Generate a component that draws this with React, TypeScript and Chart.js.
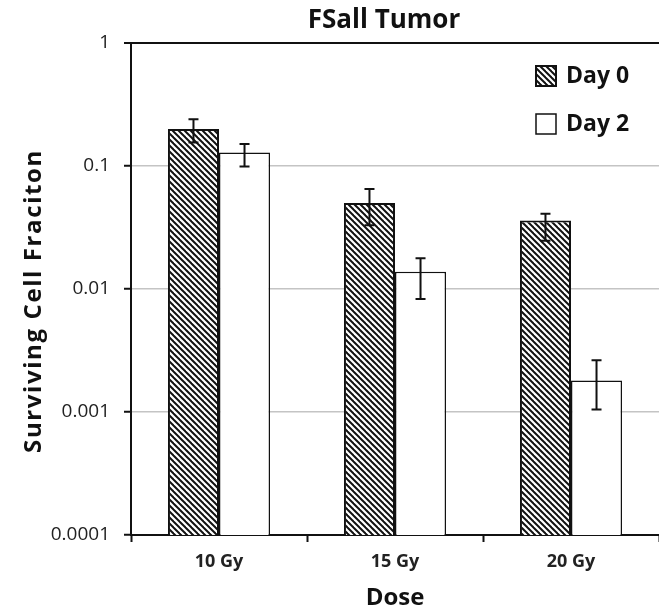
import React, { useEffect, useRef } from "react";
import { Chart, registerables } from "chart.js";

Chart.register(...registerables);

const categories = ["10 Gy", "15 Gy", "20 Gy"];
const seriesNames = ["Day 0", "Day 2"];
const day0 = [0.2, 0.05, 0.036];
const day0Hi = [0.24, 0.065, 0.041];
const day0Lo = [0.155, 0.033, 0.0247];
const day2 = [0.129, 0.0138, 0.0018];
const day2Hi = [0.151, 0.0178, 0.00263];
const day2Lo = [0.099, 0.0083, 0.00105];
const yTicks = [0.0001, 0.001, 0.01, 0.1, 1];
const yTickLabels = ["0.0001", "0.001", "0.01", "0.1", "1"];
const chartTitle = "FSall Tumor";
const xTitle = "Dose";
const yTitle = "Surviving Cell Fraciton";

const FONT = "'Open Sans'";

function makeHatch(): CanvasPattern | string {
  const s = 6;
  const c = document.createElement("canvas");
  c.width = s;
  c.height = s;
  const g = c.getContext("2d");
  if (!g) return "#fff";
  g.fillStyle = "#fff";
  g.fillRect(0, 0, s, s);
  g.strokeStyle = "#111";
  g.lineWidth = 2;
  for (let k = -1; k <= 1; k++) {
    g.beginPath();
    g.moveTo(-1, k * s - 1);
    g.lineTo(s + 1, k * s + s + 1);
    g.stroke();
  }
  const p = g.createPattern(c, "repeat");
  return p || "#fff";
}

export default function App() {
  const ref = useRef<HTMLCanvasElement | null>(null);
  useEffect(() => {
    if (!ref.current) return;
    const hatch = makeHatch();
    const errs = [
      { hi: day0Hi, lo: day0Lo },
      { hi: day2Hi, lo: day2Lo },
    ];
    const errorBars = {
      id: "errorBars",
      afterDatasetsDraw(chart: any) {
        const ctx = chart.ctx;
        const ys = chart.scales.y;
        ctx.save();
        ctx.strokeStyle = "#111";
        ctx.lineWidth = 2;
        chart.data.datasets.forEach((_: any, i: number) => {
          const meta = chart.getDatasetMeta(i);
          meta.data.forEach((el: any, j: number) => {
            const x = el.x;
            const yh = ys.getPixelForValue(errs[i].hi[j]);
            const yl = ys.getPixelForValue(errs[i].lo[j]);
            ctx.beginPath();
            ctx.moveTo(x, yh);
            ctx.lineTo(x, yl);
            ctx.moveTo(x - 5, yh);
            ctx.lineTo(x + 5, yh);
            ctx.moveTo(x - 5, yl);
            ctx.lineTo(x + 5, yl);
            ctx.stroke();
          });
        });
        ctx.restore();
      },
    };
    const extras = {
      id: "extras",
      afterDraw(chart: any) {
        const ctx = chart.ctx;
        ctx.save();
        ctx.fillStyle = "#111";
        // title
        ctx.font = `bold 26px ${FONT}`;
        ctx.textAlign = "center";
        ctx.textBaseline = "alphabetic";
        ctx.fillText(chartTitle, 384, 28);
        // y axis title
        ctx.save();
        ctx.translate(41, 301);
        ctx.rotate(-Math.PI / 2);
        ctx.font = `bold 24px ${FONT}`;
        (ctx as any).letterSpacing = "1.6px";
        ctx.textAlign = "center";
        ctx.textBaseline = "alphabetic";
        ctx.fillText(yTitle, 0, 0);
        ctx.restore();
        // legend
        const bx = 536;
        const rows = [66, 114];
        ctx.font = `bold 23px ${FONT}`;
        ctx.textAlign = "left";
        ctx.textBaseline = "middle";
        rows.forEach((y, i) => {
          ctx.fillStyle = i === 0 ? (hatch as any) : "#fff";
          ctx.fillRect(bx, y, 20, 20);
          ctx.strokeStyle = "#111";
          ctx.lineWidth = i === 0 ? 2 : 1.5;
          ctx.strokeRect(bx, y, 20, 20);
          ctx.fillStyle = "#111";
          ctx.fillText(seriesNames[i], 566, y + 10);
        });
        ctx.restore();
      },
    };
    const chart = new Chart(ref.current, {
      type: "bar",
      data: {
        labels: categories,
        datasets: [
          {
            label: seriesNames[0],
            data: day0,
            backgroundColor: hatch as any,
            borderColor: "#111",
            borderWidth: 2,
          },
          {
            label: seriesNames[1],
            data: day2,
            backgroundColor: "#fff",
            borderColor: "#111",
            borderWidth: 1.5,
          },
        ],
      },
      options: {
        animation: false,
        responsive: false,
        devicePixelRatio: 1,
        layout: { padding: { top: 43, right: 0, left: 0, bottom: 0 } },
        datasets: {
          bar: { categoryPercentage: 0.58, barPercentage: 1 },
        },
        plugins: {
          legend: { display: false },
          title: { display: false },
          tooltip: { enabled: false },
        },
        scales: {
          x: {
            type: "category",
            offset: true,
            grid: {
              offset: true,
              drawOnChartArea: false,
              drawTicks: true,
              tickLength: 7,
              tickColor: "#111",
              tickWidth: 2,
            },
            border: { display: true, color: "#111", width: 2 },
            ticks: {
              color: "#222",
              padding: 9,
              font: { family: FONT, size: 18, weight: "bold" },
            },
            title: {
              display: true,
              text: xTitle,
              color: "#111",
              font: { family: FONT, size: 24, weight: "bold" },
              padding: { top: 0, bottom: -4 },
            },
            afterFit(scale: any) {
              scale.height = 74;
            },
          },
          y: {
            type: "logarithmic",
            min: 0.0001,
            max: 1,
            afterBuildTicks(scale: any) {
              scale.ticks = yTicks.map((v) => ({ value: v }));
            },
            grid: {
              drawTicks: true,
              tickLength: 7,
              tickColor: "#111",
              tickWidth: 2,
              color: (c: any) => (c.tick && c.tick.value === 1 ? "#111" : "#c4c4c4"),
              lineWidth: (c: any) => (c.tick && c.tick.value === 1 ? 2 : 1.5),
            },
            border: { display: true, color: "#111", width: 2 },
            ticks: {
              color: "#222",
              padding: 14,
              font: { family: FONT, size: 19 },
              callback: (v: any) => {
                const i = yTicks.indexOf(Number(v));
                return i >= 0 ? yTickLabels[i] : "";
              },
            },
            afterFit(scale: any) {
              scale.width = 131;
            },
          },
        },
      },
      plugins: [errorBars, extras],
    });
    return () => chart.destroy();
  }, []);
  return (
    <div style={{ position: "absolute", left: 0, top: 0, width: 659, height: 609, background: "#fff" }}>
      <canvas ref={ref} width={659} height={609} style={{ display: "block" }} />
    </div>
  );
}
